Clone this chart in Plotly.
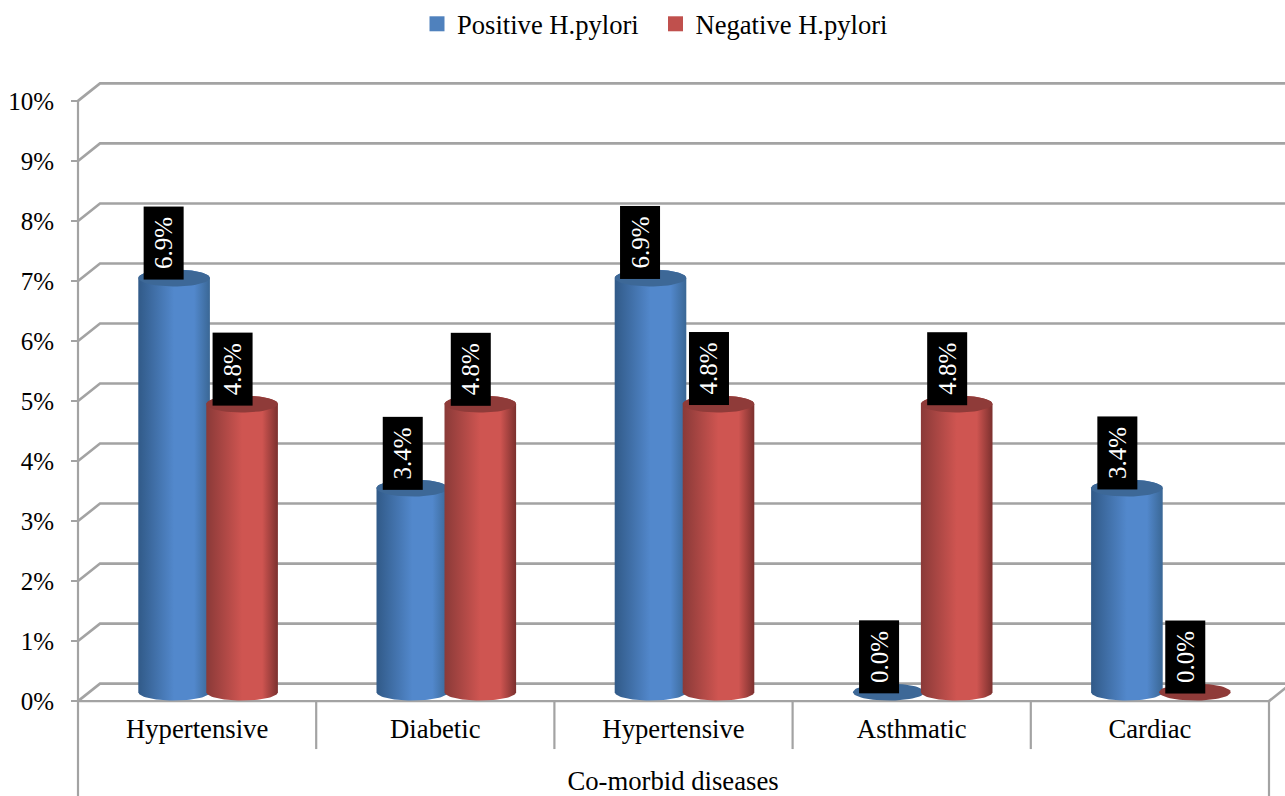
import numpy as np
import plotly.graph_objects as go

categories = ["Hypertensive", "Diabetic", "Hypertensive", "Asthmatic", "Cardiac"]
positive = [6.9, 3.4, 6.9, 0.0, 3.4]
negative = [4.8, 4.8, 4.8, 4.8, 0.0]
y_ticks = list(range(0, 11))

W, H = 1285, 796
L, R, T, B = 78, 16, 100, 95
ML = 61                              # left edge of the plot area, keeps the axis title centred as drawn
PLOT_H = 792                         # height plotly leaves for the plot area
PX = (W - L - R) / 5
PY = (H - T - B) / 10
GRID = "#a3a3a3"
SERIF = "Liberation Serif, Times New Roman, serif"
dx, dy = 22 / PX, 17.5 / PY          # depth of the 3-D box
rx, ry = 35.8 / PX, 8.5 / PY         # cylinder radii
lift = 9 / PY                        # cylinders stand 9px behind the front floor edge

fig = go.Figure()

# back wall and side wall gridlines
gx, gy = [], []
for v in y_ticks:
    gx += [0, dx, 5 + dx, None]
    gy += [v, v + dy, v + dy, None]
gx += [5, 5 + dx, None]
gy += [0, dy, None]
fig.add_trace(go.Scatter(x=gx, y=gy, mode="lines", line=dict(color=GRID, width=2.6),
                         showlegend=False, hoverinfo="skip"))

# front axis lines and table frame below the floor
bottom = -B / PY
tx, ty = [0, 0, None, 5, 5, None, 0, 5, None], [10, bottom, None, 0, bottom, None, 0, 0, None]
for i in range(1, 5):
    tx += [i, i, None]
    ty += [0, -48 / PY, None]
fig.add_trace(go.Scatter(x=tx, y=ty, mode="lines", line=dict(color=GRID, width=2.2),
                         showlegend=False, hoverinfo="skip"))


def cylinder(xc, val, name, edge_l, mid, edge_r, top):
    t = np.linspace(0, np.pi, 40)
    y_top = val + lift
    if val > 0:
        xs = np.concatenate([xc - rx * np.cos(t), xc + rx * np.cos(t)])
        ys = np.concatenate([lift - ry * np.sin(t), y_top + ry * np.sin(t)])
        fig.add_trace(go.Scatter(
            x=xs, y=ys, mode="lines", line=dict(width=0), fill="toself",
            fillgradient=dict(type="horizontal",
                              colorscale=[[0, edge_l], [0.5, mid], [0.78, mid], [1, edge_r]]),
            name=name, showlegend=False, hoverinfo="skip"))
    a = np.linspace(0, 2 * np.pi, 60)
    fig.add_trace(go.Scatter(
        x=xc + rx * np.cos(a), y=y_top + ry * np.sin(a), mode="lines",
        line=dict(width=0), fill="toself", fillcolor=top,
        name=name, showlegend=False, hoverinfo="skip"))


BLUE = ("#315a88", "#5288cc", "#3a6795", "#3d6897")
RED = ("#8a3a38", "#cf5551", "#7b302e", "#8f3b39")
labels = []
for i in range(5):
    xb = i + 0.5 - 23 / PX
    xr = i + 0.5 + 45 / PX
    cylinder(xb, positive[i], "Positive H.pylori", *BLUE)
    cylinder(xr, negative[i], "Negative H.pylori", *RED)
    labels.append((xb, positive[i]))
    labels.append((xr, negative[i]))

for xv, val in labels:
    fig.add_annotation(
        x=xv, y=val + lift, xref="x", yref="y", text=f"{val:.1f}%", textangle=-90,
        showarrow=False, font=dict(family=SERIF, size=25, color="white"),
        bgcolor="black", width=72, height=39, borderpad=0, align="center",
        xanchor="center", yanchor="bottom", xshift=-10, yshift=-2)

# legend entries
for name, col in [("Positive H.pylori", "#4f81bd"), ("Negative H.pylori", "#c0504d")]:
    fig.add_trace(go.Scatter(x=[None], y=[None], mode="markers", name=name,
                             marker=dict(symbol="square", size=15, color=col)))

fig.update_layout(
    width=W, height=H, margin=dict(l=ML, r=0, t=0, b=0, pad=0),
    paper_bgcolor="white", plot_bgcolor="white", hovermode=False,
    font=dict(family=SERIF, color="black"),
    legend=dict(orientation="h", x=(417 - ML) / (W - ML), y=1 - 19 / H, xanchor="left", yanchor="middle",
                font=dict(size=26.6), bgcolor="rgba(0,0,0,0)",
                entrywidth=193.5, entrywidthmode="pixels"),
    xaxis=dict(range=[-(L - ML) / PX, (W - L) / PX], tickvals=[i + 0.5 for i in range(5)], ticktext=categories,
               anchor="free", position=B / H,
               tickfont=dict(size=26.7), ticks="outside", ticklen=3, tickcolor="rgba(0,0,0,0)",
               showline=False, showgrid=False, zeroline=False,
               title=dict(text="Co-morbid diseases", font=dict(size=26.7), standoff=33)),
    yaxis=dict(range=[-B / PY, (PLOT_H - B) / PY], tickvals=y_ticks, ticktext=[f"{v}%" for v in y_ticks],
               anchor="free", position=(L - ML) / (W - ML),
               tickfont=dict(size=25), ticks="outside", ticklen=7, tickwidth=2, tickcolor=GRID,
               ticklabelstandoff=12,
               showline=False, showgrid=False, zeroline=False),
)

fig.write_html("out.html", post_script="document.body.style.margin='0';",
               config=dict(displayModeBar=False))
